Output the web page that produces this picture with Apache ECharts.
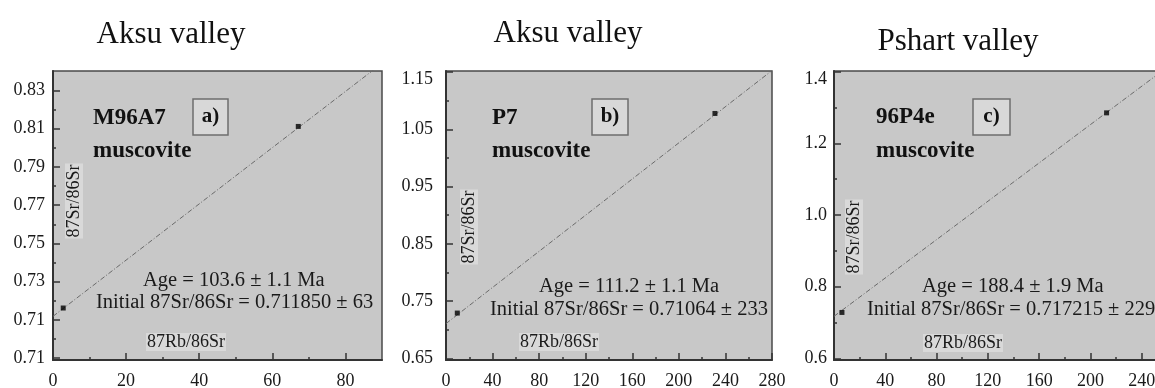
<!DOCTYPE html>
<html><head><meta charset="utf-8">
<script src="https://cdn.jsdelivr.net/npm/echarts@6/dist/echarts.min.js"></script>
<style>html,body{margin:0;padding:0;background:#fff}#c{width:1155px;height:388px}</style>
</head><body><div id="c"></div>
<script>
// ---------- data ----------
const panelTitles = ['Aksu valley', 'Aksu valley', 'Pshart valley'];
const sampleNames = ['M96A7', 'P7', '96P4e'];
const mineralNames = ['muscovite', 'muscovite', 'muscovite'];
const panelTags = ['a)', 'b)', 'c)'];
const ageTexts = ['Age = 103.6 ± 1.1 Ma', 'Age = 111.2 ± 1.1 Ma', 'Age = 188.4 ± 1.9 Ma'];
const initialTexts = ['Initial 87Sr/86Sr = 0.711850 ± 63', 'Initial 87Sr/86Sr = 0.71064 ± 233', 'Initial 87Sr/86Sr = 0.717215 ± 229'];
const yAxisName = '87Sr/86Sr';
const xAxisName = '87Rb/86Sr';

const pointsA = [[2.8, 0.7162], [67.1, 0.8112]];
const pointsB = [[9.7, 0.729], [231, 1.0778]];
const pointsC = [[6.2, 0.728], [212.6, 1.285]];
const isochronA = [[0, 0.71185], [90, 0.8442]];
const isochronB = [[0, 0.71064], [280, 1.1528]];
const isochronC = [[0, 0.717215], [280, 1.4662]];

const xTicksA = [0, 20, 40, 60, 80];
const xTicksB = [0, 40, 80, 120, 160, 200, 240, 280];
const xTicksC = [0, 40, 80, 120, 160, 200, 240, 280];
const xMinorA = [10, 30, 50, 70];
const xMinorB = [20, 60, 100, 140, 180, 220, 260];
const xMinorC = [20, 60, 100, 140, 180, 220, 260];
const yTicksA = [0.69, 0.71, 0.73, 0.75, 0.77, 0.79, 0.81, 0.83];
const yTickLabelsA = ['0.71', '0.71', '0.73', '0.75', '0.77', '0.79', '0.81', '0.83'];
const yMinorA = [0.70, 0.72, 0.74, 0.76, 0.78, 0.80, 0.82];
const yTicksB = [0.65, 0.75, 0.85, 0.95, 1.05, 1.15];
const yTickLabelsB = ['0.65', '0.75', '0.85', '0.95', '1.05', '1.15'];
const yMinorB = [0.70, 0.80, 0.90, 1.00, 1.10];
const yTicksC = [0.6, 0.8, 1.0, 1.2, 1.4];
const yTickLabelsC = ['0.6', '0.8', '1.0', '1.2', '1.4'];
const yMinorC = [0.7, 0.9, 1.1, 1.3];

// ---------- layout ----------
const FONT = "'Liberation Serif', 'DejaVu Serif', serif";
const panels = [
  {pts: pointsA, iso: isochronA, xt: xTicksA, xm: xMinorA, yt: yTicksA, yl: yTickLabelsA, ym: yMinorA,
   grid: {left: 53, top: 71, width: 329, height: 289}, x: [0, 90], y: [0.689, 0.8402], yMargin: 8, topShift: false,
   title: [171, 35], name: [93, 118], mineral: [93, 151], tag: [193, 99, 35, 36],
   age: [143, 281], init: [96, 303], yName: [74, 201], xName: [186, 342]},
  {pts: pointsB, iso: isochronB, xt: xTicksB, xm: xMinorB, yt: yTicksB, yl: yTickLabelsB, ym: yMinorB,
   grid: {left: 446, top: 71, width: 326, height: 289}, x: [0, 280], y: [0.647, 1.152], yMargin: 13, topShift: true,
   title: [568, 34], name: [492, 118], mineral: [492, 151], tag: [592, 99, 36, 36],
   age: [539, 287], init: [490, 310], yName: [469, 227], xName: [559, 342]},
  {pts: pointsC, iso: isochronC, xt: xTicksC, xm: xMinorC, yt: yTicksC, yl: yTickLabelsC, ym: yMinorC,
   grid: {left: 834, top: 71, width: 359, height: 289}, x: [0, 280], y: [0.5953, 1.4018], yMargin: 7, topShift: true,
   title: [958, 42], name: [876, 117], mineral: [876, 151], tag: [973, 99, 37, 36],
   age: [922, 287], init: [867, 310], yName: [854, 237], xName: [963, 343]}
];

const grids = [], xAxes = [], yAxes = [], series = [], graphics = [];
const axisColor = '#333';

panels.forEach((p, i) => {
  grids.push(Object.assign({show: true, backgroundColor: '#c8c8c8', borderColor: '#4a4a4a', borderWidth: 1.5,
    containLabel: false, outerBoundsMode: 'none'}, p.grid));
  const labelFmt = (arr, labels, shiftLast) => (v) => {
    for (let k = 0; k < arr.length; k++) if (Math.abs(arr[k] - v) < 1e-6) {
      if (shiftLast && k === arr.length - 1) return '{dn|' + labels[k] + '}';
      return labels[k];
    }
    return '';
  };
  // major x
  xAxes.push({type: 'value', gridIndex: i, min: p.x[0], max: p.x[1], position: 'bottom',
    axisLine: {show: true, onZero: false, lineStyle: {color: axisColor, width: 2}},
    axisTick: {show: true, inside: true, length: 7, customValues: p.xt, lineStyle: {color: axisColor, width: 1.5}},
    axisLabel: {show: true, customValues: p.xt, margin: 12, fontFamily: FONT, fontSize: 18, color: '#1a1a1a',
      formatter: labelFmt(p.xt, p.xt.map(String), false)},
    splitLine: {show: false}});
  // minor x
  xAxes.push({type: 'value', gridIndex: i, min: p.x[0], max: p.x[1], position: 'bottom', offset: 0,
    axisLine: {show: false, onZero: false},
    axisTick: {show: true, inside: true, length: 3, customValues: p.xm, lineStyle: {color: axisColor, width: 1.5}},
    axisLabel: {show: false}, splitLine: {show: false}});
  // major y
  yAxes.push({type: 'value', gridIndex: i, min: p.y[0], max: p.y[1], position: 'left',
    axisLine: {show: true, onZero: false, lineStyle: {color: axisColor, width: 2}},
    axisTick: {show: true, inside: true, length: 7, customValues: p.yt, lineStyle: {color: axisColor, width: 1.5}},
    axisLabel: {show: true, customValues: p.yt, margin: p.yMargin, fontFamily: FONT, fontSize: 18, color: '#1a1a1a',
      formatter: labelFmt(p.yt, p.yl, p.topShift),
      rich: {dn: {fontFamily: FONT, fontSize: 18, color: '#1a1a1a', padding: [15, 0, 0, 0]}}},
    splitLine: {show: false}});
  // minor y
  yAxes.push({type: 'value', gridIndex: i, min: p.y[0], max: p.y[1], position: 'left', offset: 0,
    axisLine: {show: false, onZero: false},
    axisTick: {show: true, inside: true, length: 3, customValues: p.ym, lineStyle: {color: axisColor, width: 1.5}},
    axisLabel: {show: false}, splitLine: {show: false}});

  series.push({type: 'line', xAxisIndex: 2 * i, yAxisIndex: 2 * i, data: p.iso, showSymbol: false, symbol: 'none',
    clip: true, silent: true, lineStyle: {color: '#6a6a6a', width: 1, type: [5, 2, 1, 2]}, z: 2});
  series.push({type: 'scatter', xAxisIndex: 2 * i, yAxisIndex: 2 * i, data: p.pts, symbol: 'rect', symbolSize: 5,
    itemStyle: {color: '#000'}, z: 3});

  graphics.push({type: 'text', x: p.title[0], y: p.title[1], z: 10,
    style: {text: panelTitles[i], font: `31px ${FONT}`, fill: '#111', align: 'center', verticalAlign: 'middle'}});
  graphics.push({type: 'text', x: p.name[0], y: p.name[1], z: 10,
    style: {text: sampleNames[i], font: `bold 23px ${FONT}`, fill: '#111', align: 'left', verticalAlign: 'middle'}});
  graphics.push({type: 'text', x: p.mineral[0], y: p.mineral[1], z: 10,
    style: {text: mineralNames[i], font: `bold 23px ${FONT}`, fill: '#111', align: 'left', verticalAlign: 'middle'}});
  graphics.push({type: 'rect', shape: {x: p.tag[0], y: p.tag[1], width: p.tag[2], height: p.tag[3]}, z: 10,
    style: {fill: '#d8d8d8', stroke: '#6e6e6e', lineWidth: 1.5}});
  graphics.push({type: 'text', x: p.tag[0] + p.tag[2] / 2, y: p.tag[1] + p.tag[3] / 2, z: 11,
    style: {text: panelTags[i], font: `bold 21px ${FONT}`, fill: '#111', align: 'center', verticalAlign: 'middle'}});
  graphics.push({type: 'text', x: p.age[0], y: p.age[1], z: 10,
    style: {text: ageTexts[i], font: `20.5px ${FONT}`, fill: '#1a1a1a', align: 'left', verticalAlign: 'middle'}});
  graphics.push({type: 'text', x: p.init[0], y: p.init[1], z: 10,
    style: {text: initialTexts[i], font: `20.5px ${FONT}`, fill: '#1a1a1a', align: 'left', verticalAlign: 'middle'}});
  graphics.push({type: 'text', x: p.yName[0], y: p.yName[1], rotation: Math.PI / 2, z: 10,
    style: {text: yAxisName, font: `18px ${FONT}`, fill: '#1a1a1a', align: 'center', verticalAlign: 'middle',
      backgroundColor: '#d9d9d9', padding: [0, 1]}});
  graphics.push({type: 'text', x: p.xName[0], y: p.xName[1], z: 10,
    style: {text: xAxisName, font: `18px ${FONT}`, fill: '#1a1a1a', align: 'center', verticalAlign: 'middle',
      backgroundColor: '#d9d9d9', padding: [0, 1]}});
});

const chart = echarts.init(document.getElementById('c'), null, {renderer: 'canvas'});
chart.setOption({
  animation: false,
  backgroundColor: '#fff',
  grid: grids, xAxis: xAxes, yAxis: yAxes, series: series, graphic: graphics
});
</script>
</body></html>
